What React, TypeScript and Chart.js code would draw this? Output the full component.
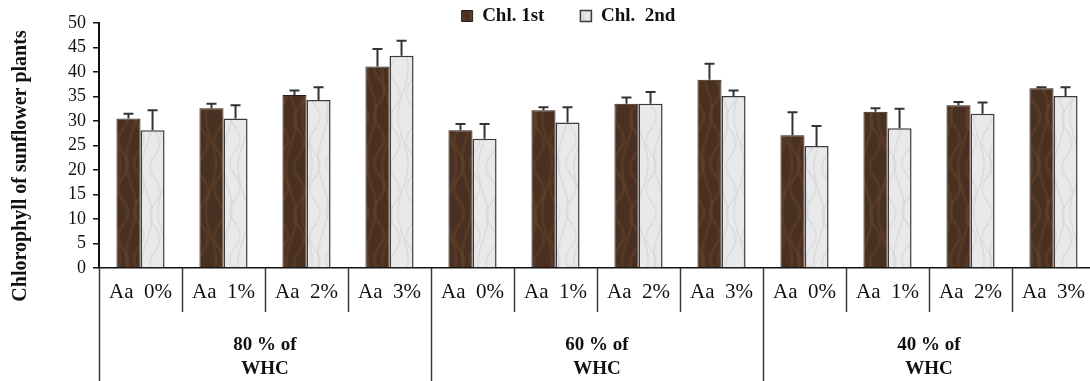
import React, { useEffect, useRef } from "react";
import { Chart, registerables } from "chart.js";

Chart.register(...registerables);

const categories = [
  "Aa  0%", "Aa  1%", "Aa  2%", "Aa  3%",
  "Aa  0%", "Aa  1%", "Aa  2%", "Aa  3%",
  "Aa  0%", "Aa  1%", "Aa  2%", "Aa  3%",
];
const groupLabels = ["80 % of", "60 % of", "40 % of"];
const groupSubLabel = "WHC";
const groupSize = 4;

const chl1st = [30.5, 32.6, 35.3, 41.1, 28.1, 32.2, 33.5, 38.4, 27.1, 31.9, 33.2, 36.7];
const chl1stErr = [1.0, 0.9, 0.9, 3.6, 1.3, 0.6, 1.3, 3.3, 4.7, 0.7, 0.7, 0.2];
const chl2nd = [28.1, 30.5, 34.3, 43.3, 26.4, 29.7, 33.5, 35.1, 24.9, 28.5, 31.5, 35.1];
const chl2ndErr = [4.1, 2.7, 2.6, 3.1, 3.0, 3.1, 2.4, 1.1, 4.1, 4.0, 2.3, 1.8];

const seriesNames = ["Chl. 1st", "Chl.  2nd"];
const yMin = 0;
const yMax = 50;
const yStep = 5;
const yTitle = "Chlorophyll of sunflower plants";

const SERIF = "'Liberation Serif', 'DejaVu Serif', serif";

function makeTexture(base: string, streak: string, alpha: number, lineW: number): CanvasPattern | string {
  const W = 48;
  const H = 96;
  const c = document.createElement("canvas");
  c.width = W;
  c.height = H;
  const g = c.getContext("2d");
  if (!g) return base;
  g.fillStyle = base;
  g.fillRect(0, 0, W, H);
  g.strokeStyle = streak;
  g.globalAlpha = alpha;
  g.lineWidth = lineW;
  for (let i = 0; i < 6; i++) {
    const x0 = i * 8 + 3;
    for (const off of [-W, 0, W]) {
      g.beginPath();
      for (let y = 0; y <= H; y += 2) {
        const x = x0 + off + 5 * Math.sin((2 * Math.PI * y * (1 + (i % 2))) / H + i * 1.7);
        if (y === 0) g.moveTo(x, y);
        else g.lineTo(x, y);
      }
      g.stroke();
    }
  }
  const p = g.createPattern(c, "repeat");
  return p || base;
}

const legendShift = {
  id: "legendShift",
  afterLayout(chart: any) {
    const l = chart.legend;
    if (!l) return;
    const dx = 20;
    const dy = -29.5;
    l.left += dx;
    l.right += dx;
    l.top += dy;
    l.bottom = l.top + 70;
  },
};

const errorBars = {
  id: "errorBars",
  afterDatasetsDraw(chart: any) {
    const ctx = chart.ctx;
    const ys = chart.scales.y;
    const errs = [chl1stErr, chl2ndErr];
    ctx.save();
    ctx.strokeStyle = "#333333";
    ctx.lineWidth = 2;
    chart.data.datasets.forEach((ds: any, i: number) => {
      const meta = chart.getDatasetMeta(i);
      meta.data.forEach((el: any, j: number) => {
        const v = ds.data[j];
        const e = errs[i][j];
        const x = el.x;
        const y0 = ys.getPixelForValue(v);
        const y1 = ys.getPixelForValue(v + e);
        ctx.beginPath();
        ctx.moveTo(x, y0);
        ctx.lineTo(x, y1);
        ctx.moveTo(x - 5, y1);
        ctx.lineTo(x + 5, y1);
        ctx.stroke();
      });
    });
    ctx.restore();
  },
};

const decorations = {
  id: "decorations",
  afterDraw(chart: any) {
    const ctx = chart.ctx;
    const xs = chart.scales.x;
    const area = chart.chartArea;
    ctx.save();
    ctx.strokeStyle = "#3a3a3a";
    ctx.lineWidth = 1.5;
    for (let k = 0; k <= categories.length; k++) {
      const x = Math.round(xs.getPixelForValue(k - 0.5)) + 0.5;
      const isGroup = k % groupSize === 0;
      const y2 = isGroup ? chart.height : area.bottom + 44;
      ctx.beginPath();
      ctx.moveTo(x, area.bottom);
      ctx.lineTo(x, y2);
      ctx.stroke();
    }
    ctx.fillStyle = "#111111";
    ctx.font = `bold 19px ${SERIF}`;
    ctx.textAlign = "center";
    ctx.textBaseline = "middle";
    groupLabels.forEach((g, gi) => {
      const a = xs.getPixelForValue(gi * groupSize - 0.5);
      const b = xs.getPixelForValue(gi * groupSize + groupSize - 0.5);
      const cx = (a + b) / 2;
      ctx.fillText(g, cx, 345);
      ctx.fillText(groupSubLabel, cx, 369);
    });
    ctx.translate(21, 166);
    ctx.rotate(-Math.PI / 2);
    ctx.font = `bold 20px ${SERIF}`;
    ctx.fillText(yTitle, 0, 0);
    ctx.restore();
  },
};

export default function App() {
  const ref = useRef<HTMLCanvasElement | null>(null);
  useEffect(() => {
    if (!ref.current) return;
    const brown = makeTexture("#4a3020", "#6a4a31", 0.4, 3);
    const marble = makeTexture("#e9e9e9", "#c8c8c8", 0.4, 1.5);
    const chart = new Chart(ref.current, {
      type: "bar",
      data: {
        labels: categories,
        datasets: [
          {
            label: seriesNames[0],
            data: chl1st,
            backgroundColor: brown as any,
            borderColor: "#2a1c12",
            borderWidth: 1,
            categoryPercentage: 0.58,
            barPercentage: 1,
          },
          {
            label: seriesNames[1],
            data: chl2nd,
            backgroundColor: marble as any,
            borderColor: "#3a3a3a",
            borderWidth: 1.5,
            categoryPercentage: 0.58,
            barPercentage: 1,
          },
        ],
      },
      options: {
        animation: false,
        responsive: true,
        maintainAspectRatio: false,
        layout: { padding: 0 },
        plugins: {
          tooltip: { enabled: false },
          legend: {
            display: true,
            position: "top",
            maxHeight: 23,
            labels: {
              boxWidth: 11,
              boxHeight: 11,
              padding: 36,
              color: "#111111",
              font: { family: SERIF, size: 19, weight: "bold" },
            },
          },
        },
        scales: {
          x: {
            type: "category",
            offset: true,
            grid: { display: false, drawTicks: false },
            border: { display: true, color: "#111111", width: 1.5 },
            ticks: {
              color: "#111111",
              padding: 12,
              maxRotation: 0,
              autoSkip: false,
              font: { family: SERIF, size: 21 },
            },
            afterFit: (s: any) => {
              s.height = 113;
            },
          },
          y: {
            min: yMin,
            max: yMax,
            grid: {
              display: true,
              drawOnChartArea: false,
              drawTicks: true,
              tickLength: 6,
              color: "#111111",
              lineWidth: 1.5,
            },
            border: { display: true, color: "#111111", width: 2 },
            ticks: {
              stepSize: yStep,
              autoSkip: false,
              color: "#111111",
              padding: 7,
              font: { family: SERIF, size: 18 },
            },
            afterFit: (s: any) => {
              s.width = 99;
            },
          },
        },
      },
      plugins: [legendShift, errorBars, decorations],
    });
    return () => chart.destroy();
  }, []);

  return (
    <div
      style={{
        position: "fixed",
        left: 0,
        top: 0,
        width: 1090,
        height: 381,
        overflow: "hidden",
        background: "#ffffff",
      }}
    >
      <div style={{ position: "relative", width: 1097, height: 381 }}>
        <canvas ref={ref} />
      </div>
    </div>
  );
}
